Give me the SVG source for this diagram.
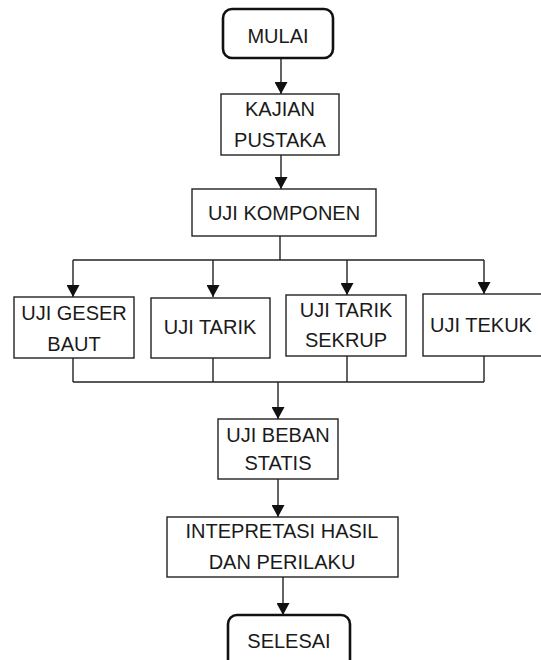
<svg xmlns="http://www.w3.org/2000/svg" width="541" height="660" viewBox="0 0 541 660">
<defs>
<marker id="ah" markerWidth="12" markerHeight="13" viewBox="0 0 12 13" refX="12" refY="6.5" orient="auto" markerUnits="userSpaceOnUse">
<path d="M0,0 L12,6.5 L0,13 Z" fill="#111"/>
</marker>
<style>
.box{fill:#fff;stroke:#222;stroke-width:1.4}
.term{fill:#fff;stroke:#111;stroke-width:2.6}
.ln{fill:none;stroke:#222;stroke-width:1.4}
text{font-family:"Liberation Sans",Arial,sans-serif;font-size:20px;fill:#1a1a1a;text-anchor:middle}
</style>
</defs>
<rect width="541" height="660" fill="#fff"/>
<g id="connectors">
<line class="ln" x1="281" y1="58" x2="281" y2="94" marker-end="url(#ah)"/>
<line class="ln" x1="281" y1="155" x2="281" y2="189" marker-end="url(#ah)"/>
<polyline class="ln" points="280,236 280,260"/>
<line class="ln" x1="73" y1="260" x2="484" y2="260"/>
<line class="ln" x1="73" y1="260" x2="73" y2="297" marker-end="url(#ah)"/>
<line class="ln" x1="213" y1="260" x2="213" y2="297" marker-end="url(#ah)"/>
<line class="ln" x1="347" y1="260" x2="347" y2="295" marker-end="url(#ah)"/>
<line class="ln" x1="484" y1="260" x2="484" y2="294" marker-end="url(#ah)"/>
<line class="ln" x1="73" y1="358" x2="73" y2="382"/>
<line class="ln" x1="213" y1="358" x2="213" y2="382"/>
<line class="ln" x1="347" y1="356" x2="347" y2="382"/>
<line class="ln" x1="484" y1="356" x2="484" y2="382"/>
<line class="ln" x1="73" y1="382" x2="484" y2="382"/>
<line class="ln" x1="278" y1="382" x2="278" y2="419" marker-end="url(#ah)"/>
<line class="ln" x1="278" y1="479" x2="278" y2="517" marker-end="url(#ah)"/>
<line class="ln" x1="283" y1="577" x2="283" y2="615" marker-end="url(#ah)"/>
</g>
<g id="mulai">
<rect class="term" x="223" y="9" width="110" height="49" rx="9"/>
<text x="278" y="43">MULAI</text>
</g>
<g id="kajian">
<rect class="box" x="221" y="94" width="118" height="61"/>
<text x="280" y="116">KAJIAN</text>
<text x="280" y="147">PUSTAKA</text>
</g>
<g id="komponen">
<rect class="box" x="192" y="189" width="184" height="47"/>
<text x="284" y="220">UJI KOMPONEN</text>
</g>
<g id="geser">
<rect class="box" x="14" y="297" width="120" height="61"/>
<text x="74" y="320">UJI GESER</text>
<text x="74" y="351">BAUT</text>
</g>
<g id="tarik">
<rect class="box" x="151" y="298" width="119" height="60"/>
<text x="210" y="334">UJI TARIK</text>
</g>
<g id="sekrup">
<rect class="box" x="286" y="295" width="120" height="61"/>
<text x="346" y="317">UJI TARIK</text>
<text x="346" y="347">SEKRUP</text>
</g>
<g id="tekuk">
<rect class="box" x="423" y="294" width="120" height="62"/>
<text x="481" y="332">UJI TEKUK</text>
</g>
<g id="beban">
<rect class="box" x="218" y="419" width="120" height="60"/>
<text x="278" y="442">UJI BEBAN</text>
<text x="278" y="470">STATIS</text>
</g>
<g id="intepretasi">
<rect class="box" x="167" y="517" width="231" height="60"/>
<text x="282" y="538">INTEPRETASI HASIL</text>
<text x="282" y="569">DAN PERILAKU</text>
</g>
<g id="selesai">
<rect class="term" x="228" y="615" width="122" height="60" rx="9"/>
<text x="289" y="648">SELESAI</text>
</g>
</svg>
